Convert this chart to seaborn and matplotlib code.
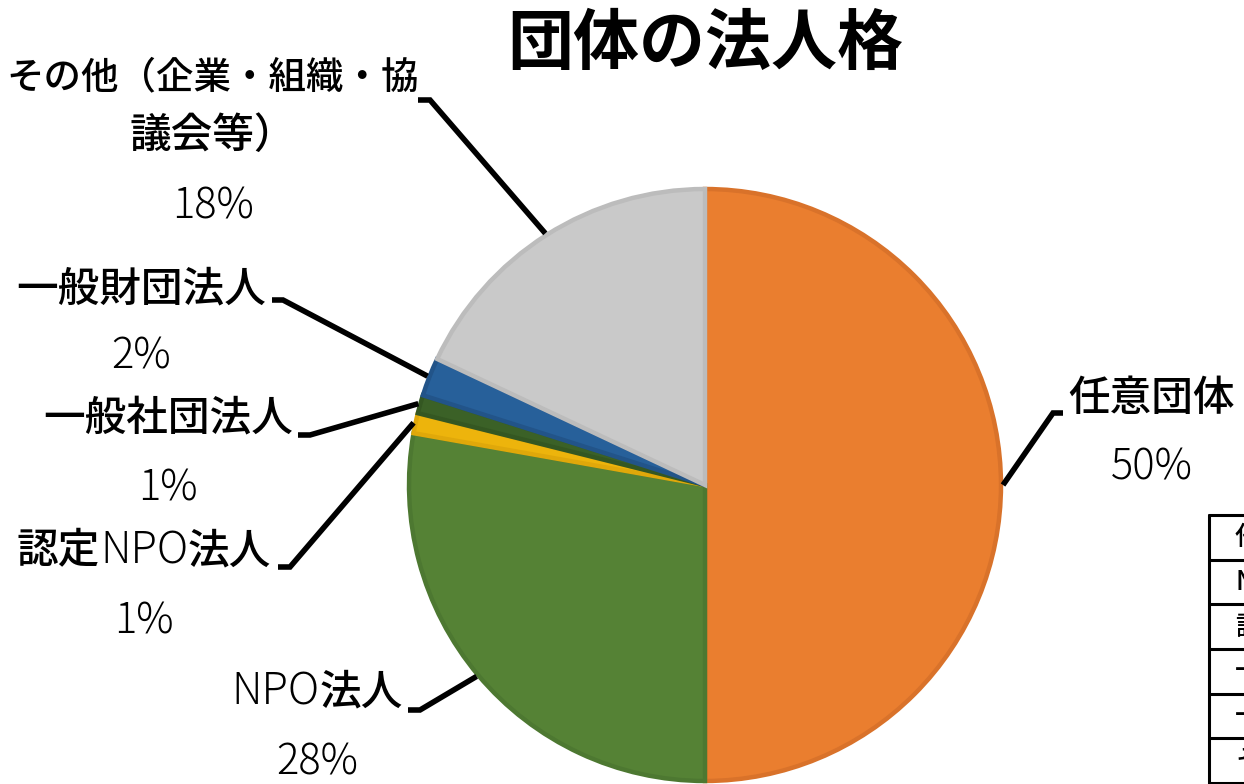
import matplotlib
matplotlib.use("Agg")
import matplotlib.pyplot as plt
import seaborn as sns
import numpy as np

# ---------------- data ----------------
title = "団体の法人格"
categories = ["任意団体", "NPO法人", "認定NPO法人", "一般社団法人", "一般財団法人",
              "その他（企業・組織・協議会等）"]
shares = [50.0, 27.8, 1.1, 1.0, 2.1, 18.0]
label_lines = [["任意団体"], ["NPO法人"], ["認定NPO法人"], ["一般社団法人"], ["一般財団法人"],
               ["その他（企業・組織・協", "議会等）"]]

# ---------------- style ----------------
sns.set_theme(style="white")
plt.rcParams['font.family'] = ['Noto Sans CJK JP', 'DejaVu Sans']

fill_colors = sns.color_palette(["#EA7E2F", "#558235", "#EDB40C", "#3B6127", "#27609A", "#C9C9C9"])
edge_colors = sns.color_palette(["#D9722A", "#4D7831", "#E0A80A", "#345722", "#225489", "#BCBCBC"])

W, H = 1244, 784
fig = plt.figure(figsize=(W / 100, H / 100), dpi=100)
ax = fig.add_axes([0, 0, 1, 1])

def Y(ypx):
    return H - ypx

center = (705, Y(485))
radius = 296

wedges, _ = ax.pie(shares, colors=fill_colors, startangle=90, counterclock=False,
                   center=center, radius=radius, frame=False)
for w, ec in zip(wedges, edge_colors):
    w.set_edgecolor(ec)
    w.set_linewidth(3.2)

ax.set_xlim(0, W)
ax.set_ylim(0, H)
ax.set_aspect('equal')
ax.axis('off')

# ---------------- labels (layout in pixel coords) ----------------
# name centre x, first-line centre y, pct centre y, elbow point, stub end
layout = [
    (1152, 398, 468, (1053, 413), (1063, 413)),
    (317, 692, 763, (420, 710), (408, 710)),
    (144, 551, 622, (290, 567), (278, 567)),
    (168, 418, 489, (310, 435), (298, 435)),
    (141, 289, 357, (283, 300), (272, 300)),
    (213, 77, 207, (430, 100), (418, 100)),
]
LINE_GAP = 58
NAME_SIZE = 30
LATIN_SIZE = 31

renderer = fig.canvas.get_renderer()

def segments(line):
    # split Latin run (NPO) from CJK to mimic the mixed-font label
    out = []
    if "NPO" in line:
        a, b = line.split("NPO", 1)
        if a:
            out.append((a, "medium", NAME_SIZE))
        out.append(("NPO", "light", LATIN_SIZE))
        if b:
            out.append((b, "medium", NAME_SIZE))
    else:
        out.append((line, "medium", NAME_SIZE))
    return out

def draw_line(cx, ypx, line, size_scale=1.0):
    segs = segments(line)
    texts = []
    for s, wt, fs in segs:
        t = ax.text(0, Y(ypx), s, ha="left", va="center", fontsize=fs * size_scale,
                    fontweight=wt, color="black")
        texts.append(t)
    widths = [t.get_window_extent(renderer).width for t in texts]
    x = cx - sum(widths) / 2
    for t, wd in zip(texts, widths):
        t.set_x(x)
        x += wd

for w, lines, v, (cx, ny, py, elbow, stub) in zip(wedges, label_lines, shares, layout):
    mid = np.deg2rad((w.theta1 + w.theta2) / 2)
    r_out = radius + 2
    ax_pt = (center[0] + r_out * np.cos(mid), center[1] + r_out * np.sin(mid))
    xs = [ax_pt[0], elbow[0], stub[0]]
    ys = [ax_pt[1], Y(elbow[1]), Y(stub[1])]
    ax.plot(xs, ys, color="black", lw=4.0, solid_capstyle="butt", solid_joinstyle="miter")
    for k, line in enumerate(lines):
        scale = 0.9 if (len(lines) > 1 and k == 0) else 1.0
        draw_line(cx, ny + k * LINE_GAP, line, scale)
    ax.text(cx, Y(py), f"{round(v)}%", ha="center", va="center", fontsize=30,
            fontweight="light", color="black")

# ---------------- title ----------------
ax.text(705, Y(44), title, ha="center", va="center", fontsize=47.5, fontweight="bold", color="black")

# ---------------- partial table at right edge ----------------
rows = np.linspace(515, 783, len(categories) + 1)
ax.plot([1209, 1209], [Y(rows[0]), Y(rows[-1])], color="black", lw=2.2)
for r in rows:
    ax.plot([1209, W + 5], [Y(r), Y(r)], color="black", lw=2.2)
for i, cat in enumerate(categories):
    yc = (rows[i] + rows[i + 1]) / 2
    ax.text(1235, Y(yc), cat, ha="left", va="center", fontsize=19, fontweight="medium", color="black")

fig.savefig("out.png", dpi=100)
